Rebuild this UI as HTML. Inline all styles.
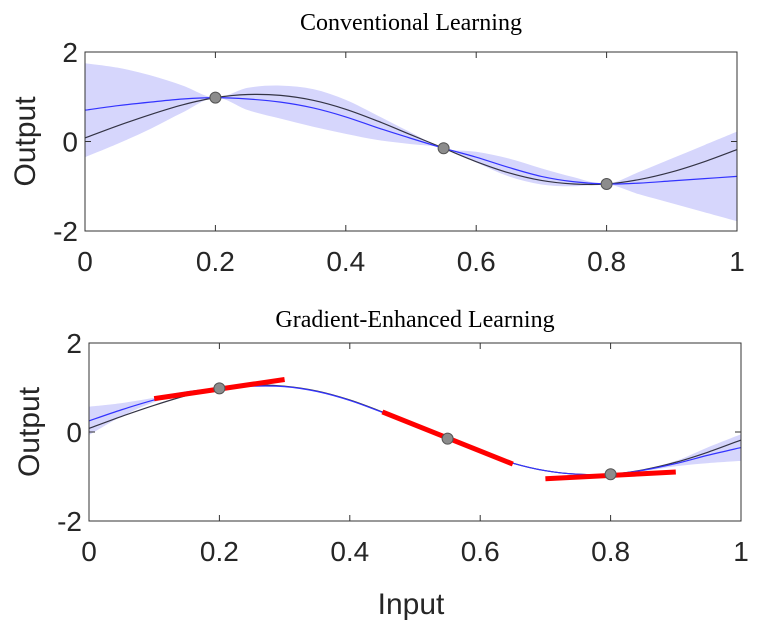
<!DOCTYPE html>
<html><head><meta charset="utf-8"><style>
body{margin:0;background:#fff;}
svg{display:block;font-family:"Liberation Sans",Arial,sans-serif;}
</style></head><body>
<svg id="c" width="774" height="625"></svg>
<script>
const xs=[0,0.05,0.1,0.15,0.2,0.25,0.3,0.35,0.4,0.45,0.5,0.55,0.6,0.65,0.7,0.75,0.8,0.85,0.9,0.95,1];
const trueVals=[0.08,0.35,0.6,0.82,0.98,1.05,1.03,0.92,0.72,0.45,0.15,-0.15,-0.45,-0.7,-0.87,-0.95,-0.95,-0.85,-0.68,-0.45,-0.18];
const convMean=[0.7,0.8,0.88,0.95,0.98,0.95,0.88,0.75,0.55,0.3,0.07,-0.15,-0.35,-0.58,-0.78,-0.9,-0.95,-0.93,-0.88,-0.83,-0.78];
const convHalf=[1.05,0.85,0.6,0.3,0,0.25,0.37,0.42,0.38,0.27,0.13,0,0.12,0.2,0.18,0.1,0,0.25,0.5,0.75,1.0];
const gradMean=[0.25,0.5,0.72,0.9,0.98,1.03,1.02,0.91,0.71,0.44,0.14,-0.15,-0.45,-0.7,-0.87,-0.95,-0.95,-0.86,-0.71,-0.52,-0.35];
const gradHalf=[0.32,0.15,0.05,0.02,0,0.01,0.01,0.01,0.01,0.01,0.01,0,0.01,0.01,0.01,0.01,0,0.02,0.06,0.18,0.3];
const obsX=[0.2,0.55,0.8];
const obsY=[0.98,-0.15,-0.95];
const tanX0=[0.1,0.45,0.7],tanY0=[0.75,0.45,-1.05];
const tanX1=[0.3,0.65,0.9],tanY1=[1.18,-0.72,-0.9];
const xTicks=[0,0.2,0.4,0.6,0.8,1],xTickLabels=["0","0.2","0.4","0.6","0.8","1"];
const yTicks=[-2,0,2],yTickLabels=["-2","0","2"];

const NS="http://www.w3.org/2000/svg",svg=document.getElementById('c');
function mk(t,a,p){const e=document.createElementNS(NS,t);for(const k in a)e.setAttribute(k,a[k]);(p||svg).appendChild(e);return e;}
function smooth(pts,start){
  let d=start?'M'+pts[0][0]+','+pts[0][1]:'L'+pts[0][0]+','+pts[0][1];
  for(let i=0;i<pts.length-1;i++){
    const p0=pts[Math.max(0,i-1)],p1=pts[i],p2=pts[i+1],p3=pts[Math.min(pts.length-1,i+2)];
    const c1=[p1[0]+(p2[0]-p0[0])/6,p1[1]+(p2[1]-p0[1])/6],c2=[p2[0]-(p3[0]-p1[0])/6,p2[1]-(p3[1]-p1[1])/6];
    d+=` C${c1[0]},${c1[1]} ${c2[0]},${c2[1]} ${p2[0]},${p2[1]}`;
  }
  return d;
}
function panel(name,L,R,T,B,title,mean,half,tangents,titleY){
  const g=mk('g',{});
  
  
  const sx=v=>L+(R-L)*v, sy=v=>B-(B-T)*(v+2)/4;
  let up=xs.map((x,i)=>[sx(x),sy(mean[i]+half[i])]);
  let dn=xs.map((x,i)=>[sx(x),sy(mean[i]-half[i])]).reverse();
  const band=mk('path',{d:smooth(up,true)+' '+smooth(dn,false)+' Z',fill:'#d6d6fc',stroke:'none'},g);
  
  
  const tl=mk('path',{d:smooth(xs.map((x,i)=>[sx(x),sy(trueVals[i])]),true),fill:'none',stroke:'#333344','stroke-width':1.2},g);
  
  
  const ml=mk('path',{d:smooth(xs.map((x,i)=>[sx(x),sy(mean[i])]),true),fill:'none',stroke:'#3333ff','stroke-width':1.2},g);
  
  
  if(tangents){for(let i=0;i<tanX0.length;i++){
    const t=mk('line',{x1:sx(tanX0[i]),y1:sy(tanY0[i]),x2:sx(tanX1[i]),y2:sy(tanY1[i]),stroke:'#ff0000','stroke-width':5},g);
    
    
  }}
  for(let i=0;i<obsX.length;i++){
    const c=mk('circle',{cx:sx(obsX[i]),cy:sy(obsY[i]),r:5.5,fill:'#8c8c8c',stroke:'#555','stroke-width':1},g);
    
    
  }
  const box=mk('rect',{x:L,y:T,width:R-L,height:B-T,fill:'none',stroke:'#333','stroke-width':1},g);
  
  
  xTicks.forEach((v,i)=>{
    mk('line',{x1:sx(v),x2:sx(v),y1:B,y2:B-6,stroke:'#333'},g);
    mk('line',{x1:sx(v),x2:sx(v),y1:T,y2:T+6,stroke:'#333'},g);
    const t=mk('text',{x:sx(v),y:B+40,'font-size':28,'text-anchor':'middle',fill:'#262626'},g);
    t.textContent=xTickLabels[i];
    
    
  });
  yTicks.forEach((v,i)=>{
    mk('line',{x1:L,x2:L+6,y1:sy(v),y2:sy(v),stroke:'#333'},g);
    mk('line',{x1:R,x2:R-6,y1:sy(v),y2:sy(v),stroke:'#333'},g);
    const t=mk('text',{x:L-7,y:sy(v)+10,'font-size':28,'text-anchor':'end',fill:'#262626'},g);
    t.textContent=yTickLabels[i];
    
    
  });
  const yl=mk('text',{x:0,y:0,'font-size':30,'text-anchor':'middle',fill:'#262626',transform:`translate(${L-50},${(T+B)/2}) rotate(-90)`},g);
  yl.textContent='Output';
  
  
  const ti=mk('text',{x:(L+R)/2,y:titleY,'font-size':24,'text-anchor':'middle',fill:'#000','font-family':'"Liberation Serif",serif'},g);
  ti.textContent=title;
  
  
}
panel('conventional-panel',85,737,52,231,'Conventional Learning',convMean,convHalf,false,30);
panel('gradient-panel',89,741,343,521,'Gradient-Enhanced Learning',gradMean,gradHalf,true,327);
const xl=mk('text',{x:411,y:614,'font-size':30,'text-anchor':'middle',fill:'#262626'});
xl.textContent='Input';


</script>
</body></html>
